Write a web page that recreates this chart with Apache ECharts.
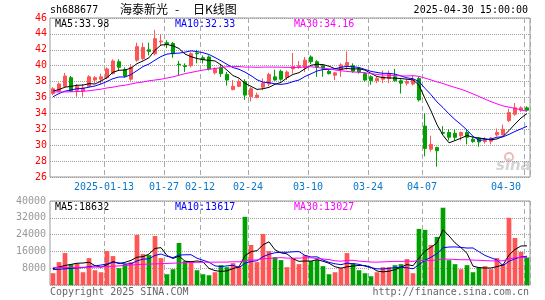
<!DOCTYPE html>
<html><head><meta charset="utf-8">
<script src="https://cdn.jsdelivr.net/npm/echarts@6.0.0/dist/echarts.min.js"></script>
<style>html,body{margin:0;padding:0;background:#fff}#c{width:545px;height:300px}</style>
</head><body><div id="c"></div>
<script>
const dates = ['2024-12-30','2024-12-31','2025-01-02','2025-01-03','2025-01-06','2025-01-07','2025-01-08','2025-01-09','2025-01-10','2025-01-13',
'2025-01-14','2025-01-15','2025-01-16','2025-01-17','2025-01-20','2025-01-21','2025-01-22','2025-01-23','2025-01-24','2025-01-27',
'2025-02-05','2025-02-06','2025-02-07','2025-02-10','2025-02-11','2025-02-12','2025-02-13','2025-02-14','2025-02-17','2025-02-18',
'2025-02-19','2025-02-20','2025-02-21','2025-02-24','2025-02-25','2025-02-26','2025-02-27','2025-02-28','2025-03-03','2025-03-04',
'2025-03-05','2025-03-06','2025-03-07','2025-03-10','2025-03-11','2025-03-12','2025-03-13','2025-03-14','2025-03-17','2025-03-18',
'2025-03-19','2025-03-20','2025-03-21','2025-03-24','2025-03-25','2025-03-26','2025-03-27','2025-03-28','2025-03-31','2025-04-01',
'2025-04-02','2025-04-03','2025-04-07','2025-04-08','2025-04-09','2025-04-10','2025-04-11','2025-04-14','2025-04-15','2025-04-16',
'2025-04-17','2025-04-18','2025-04-21','2025-04-22','2025-04-23','2025-04-24','2025-04-25','2025-04-28','2025-04-29','2025-04-30'];

const opens = [36.5,36.8,37.4,38.5,36.9,36.8,37.4,38.2,38.3,38.5, 39.0,40.5,39.5,38.3,40.7,40.9,42.0,41.5,43.0,42.9,
 42.8,40.2,40.0,40.0,41.6,41.0,41.1,39.1,39.8,38.9, 37.0,37.4,38.0,36.1,36.0,37.3,37.7,38.6,39.3,38.5,
 39.6,39.8,39.8,41.1,40.5,40.0,39.3,38.8,39.5,40.0, 40.0,39.6,39.0,38.6,38.1,38.3,38.4,38.6,38.1,37.8,
 37.7,38.4,32.4,29.5,29.7,31.6,31.6,31.5,31.2,31.6, 30.75,30.9,30.45,30.5,31.3,31.3,33.1,33.9,34.4,34.7];
const closes = [37.1,37.7,38.7,36.8,37.4,37.2,38.6,38.5,38.6,39.6, 40.6,39.8,38.7,39.8,42.4,42.3,41.8,43.4,43.1,42.7,
 41.5,40.1,39.9,41.5,41.5,40.8,39.6,39.6,39.0,38.2, 37.4,38.0,36.3,37.1,36.3,37.8,38.9,38.2,38.3,39.2,
 39.9,40.0,40.7,40.5,39.8,39.7,39.0,39.1,40.1,40.4, 39.3,39.2,38.2,38.1,38.4,38.6,39.0,38.1,37.8,38.0,
 38.2,35.7,29.6,30.1,29.3,31.5,31.0,31.0,31.6,31.0, 30.45,30.4,30.6,30.9,31.6,32.0,34.1,34.7,34.7,34.4];
const lows = [36.3,36.7,37.3,36.7,36.1,36.1,37.3,37.8,37.7,38.3, 38.9,39.4,38.5,38.1,40.5,40.7,41.3,41.3,42.6,42.2,
 41.0,38.8,39.2,39.8,40.3,40.3,39.4,38.9,38.6,37.5, 36.9,37.3,35.7,35.5,35.9,36.9,37.4,38.1,38.1,38.2,
 39.0,39.6,39.2,40.2,38.6,38.6,38.9,38.2,38.6,39.5, 39.1,39.0,38.0,37.6,37.8,37.8,37.8,38.0,36.5,37.5,
 37.5,35.5,28.6,29.2,27.3,31.3,30.6,30.6,30.6,30.1, 30.3,29.8,30.2,30.1,31.1,31.2,32.9,33.7,34.2,34.3];
const highs = [37.3,37.9,39.1,38.7,37.7,37.7,38.8,38.7,39.0,39.8, 40.8,40.8,39.8,40.2,42.9,42.9,42.9,44.5,43.9,43.2,
 43.0,40.6,40.3,41.7,42.0,41.3,41.3,39.8,40.2,39.2, 38.2,38.3,38.3,37.3,36.6,38.4,39.1,39.5,39.5,39.4,
 41.6,40.6,41.1,41.3,40.7,40.1,39.5,39.2,40.3,41.8, 40.3,39.8,39.2,38.8,38.6,39.4,39.4,39.6,38.3,38.3,
 38.8,38.6,34.0,31.2,29.8,32.4,32.0,32.0,31.7,32.0, 31.1,31.0,31.0,31.0,32.1,32.6,34.6,35.3,34.9,34.9];
const volumes = [5600,10880,15200,9920,10240,6080,12800,7040,6080,16160, 13760,8000,9920,10880,23840,14720,14240,23360,12800,5120,
 7520,20000,11360,11360,7040,5120,4640,6080,9440,8480, 10400,8960,32480,19040,10880,24320,16160,13280,11840,8480,
 12800,9920,14240,11400,12000,8960,5120,6080,8000,15200, 10400,7040,5600,4160,6080,8480,8480,9440,9920,12320,
 5600,26720,26240,19040,22880,36800,11840,9920,7520,9440, 6080,8480,8960,7520,12800,10000,32000,22400,15700,13100];

const ma5Head = [36.8,37.0,37.3,37.4];
const ma10Head = [36.1,36.5,36.8,36.95,37.1,37.15,37.3,37.45,37.7];
const ma30Head = [36.7,36.7,36.7,36.72,36.75,36.78,36.85,36.95,37.05,37.2,37.3,37.45,37.55,37.7,37.85,37.95,38.1,38.2,38.3,38.45,38.6,38.8,39.0,39.15,39.3,39.45,39.55,39.65,39.75];
const vma5Head = [7800,8600,9300,9800];
const vma10Head = [7300,7500,7700,7900,8100,8300,8700,9100,9500];
const vma30Head = [8300,8320,8340,8360,8380,8420,8460,8520,8600,8750,8900,9100,9300,9500,9700,9850,9950,10050,10150,10250,10400,10500,10600,10700,10800,10850,10870,10890,10910];

const xTickDates = ['2025-01-13','2025-01-27','2025-02-12','2025-02-24','2025-03-10','2025-03-24','2025-04-07','2025-04-30'];
const priceLegend = ['MA5:33.98','MA10:32.33','MA30:34.16'];
const volLegend = ['MA5:18632','MA10:13617','MA30:13027'];
const stockCode = 'sh688677';
const stockName = '海泰新光';
const chartKind = '日K线图';
const timeStamp = '2025-04-30 15:00:00';

const UP = '#ff5555', DOWN = '#00a000';
const MA_COLORS = ['#000000', '#0000ff', '#ff00ff'];
const MONO = 'DejaVu Sans Mono';

function movingAvg(arr, n, head, digits) {
  return arr.map((v, i) => {
    if (i < n - 1) return head[i];
    let s = 0;
    for (let k = i - n + 1; k <= i; k++) s += arr[k];
    const a = s / n;
    return digits === 0 ? Math.round(a) : Number(a.toFixed(digits));
  });
}

const candleData = dates.map((d, i) => [opens[i], closes[i], lows[i], highs[i]]);
const volData = volumes.map((v, i) => ({ value: v, itemStyle: { color: closes[i] >= opens[i] ? UP : DOWN } }));
const pMA = [movingAvg(closes, 5, ma5Head, 2), movingAvg(closes, 10, ma10Head, 2), movingAvg(closes, 30, ma30Head, 2)];
const vMA = [movingAvg(volumes, 5, vma5Head, 0), movingAvg(volumes, 10, vma10Head, 0), movingAvg(volumes, 30, vma30Head, 0)];

const tickFn = (idx, v) => xTickDates.indexOf(v) >= 0;
const vSplit = { show: true, interval: tickFn, lineStyle: { color: '#aaaaaa', type: [5, 3], width: 1 } };
const hSplit = { show: true, lineStyle: { color: '#a0a0a0', type: [1, 1], width: 1 } };

function lineSeries(data, color, xi, yi) {
  return { type: 'line', data, xAxisIndex: xi, yAxisIndex: yi, symbol: 'none', smooth: false,
    lineStyle: { color, width: 1 }, z: 5, silent: true };
}

const chart = echarts.init(document.getElementById('c'), null, { renderer: 'canvas' });
const legendX = [55, 175, 294];
const graphics = [];
graphics.push({ type: 'text', left: 50, top: 5, style: { text: stockCode, font: '10px ' + MONO, fill: '#000' } });
graphics.push({ type: 'text', left: 120, top: 3, style: { text: stockName, font: '12px "Noto Sans CJK SC"', fill: '#000' } });
graphics.push({ type: 'text', left: 175, top: 3, style: { text: '-', font: '12px "Noto Sans CJK SC"', fill: '#000' } });
graphics.push({ type: 'text', left: 193, top: 3, style: { text: chartKind, font: '12px "Noto Sans CJK SC"', fill: '#000' } });
graphics.push({ type: 'text', right: 17, top: 5, style: { text: timeStamp, font: '10px ' + MONO, fill: '#000' } });
priceLegend.forEach((t, k) => graphics.push({ type: 'text', left: legendX[k], top: 19, style: { text: t, font: '10px ' + MONO, fill: MA_COLORS[k] } }));
volLegend.forEach((t, k) => graphics.push({ type: 'text', left: legendX[k], top: 202, style: { text: t, font: '10px ' + MONO, fill: MA_COLORS[k] } }));
graphics.push({ type: 'text', left: 50, top: 287, style: { text: 'Copyright 2025 SINA.COM', font: '10px ' + MONO, fill: '#666' } });
graphics.push({ type: 'text', right: 16, top: 287, style: { text: 'http://finance.sina.com.cn', font: '10px ' + MONO, fill: '#666' } });
graphics.push({ type: 'circle', shape: { cx: 509, cy: 157, r: 4 }, style: { fill: 'none', stroke: '#f2b8b8', lineWidth: 2 } });
graphics.push({ type: 'text', left: 496, top: 159, style: { text: 'sina', font: 'italic bold 15px "DejaVu Sans"', fill: '#d4d4d4' } });

chart.setOption({
  animation: false,
  backgroundColor: '#fff',
  grid: [
    { left: 50, right: 15, top: 18, height: 159, show: true, borderColor: '#999', borderWidth: 1, outerBoundsMode: 'none', containLabel: false },
    { left: 50, right: 15, top: 201, height: 84, show: true, borderColor: '#999', borderWidth: 1, outerBoundsMode: 'none', containLabel: false }
  ],
  xAxis: [
    { type: 'category', gridIndex: 0, data: dates, boundaryGap: true,
      axisLine: { show: false }, axisTick: { show: false }, splitLine: vSplit,
      axisLabel: { interval: tickFn, color: '#0a78c8', fontFamily: MONO, fontSize: 10, margin: 5, padding: [0, 6, 0, 0],
        alignMaxLabel: 'right', hideOverlap: false,
        formatter: (v) => v === xTickDates[0] ? v : v.slice(5) } },
    { type: 'category', gridIndex: 1, data: dates, boundaryGap: true,
      axisLine: { show: false }, axisTick: { show: false }, splitLine: vSplit, axisLabel: { show: false } }
  ],
  yAxis: [
    { type: 'value', gridIndex: 0, min: 26, max: 46, interval: 2, scale: true,
      axisLine: { show: false }, axisTick: { show: false }, splitLine: hSplit,
      axisLabel: { color: '#ff0000', fontFamily: MONO, fontSize: 10, margin: 3 } },
    { type: 'value', gridIndex: 1, min: 0, max: 40000, interval: 8000,
      axisLine: { show: false }, axisTick: { show: false }, splitLine: hSplit,
      axisLabel: { color: '#999', fontFamily: MONO, fontSize: 10, margin: 4, formatter: (v) => v === 0 ? '' : String(v) } }
  ],
  graphic: graphics,
  series: [
    { type: 'candlestick', xAxisIndex: 0, yAxisIndex: 0, data: candleData, barWidth: '70%', silent: true,
      itemStyle: { color: UP, color0: DOWN, borderColor: UP, borderColor0: DOWN, borderWidth: 1 } },
    lineSeries(pMA[0], MA_COLORS[0], 0, 0),
    lineSeries(pMA[1], MA_COLORS[1], 0, 0),
    lineSeries(pMA[2], MA_COLORS[2], 0, 0),
    { type: 'bar', xAxisIndex: 1, yAxisIndex: 1, data: volData, barWidth: '78%', silent: true },
    lineSeries(vMA[0], MA_COLORS[0], 1, 1),
    lineSeries(vMA[1], MA_COLORS[1], 1, 1),
    lineSeries(vMA[2], MA_COLORS[2], 1, 1)
  ]
});
</script></body></html>
